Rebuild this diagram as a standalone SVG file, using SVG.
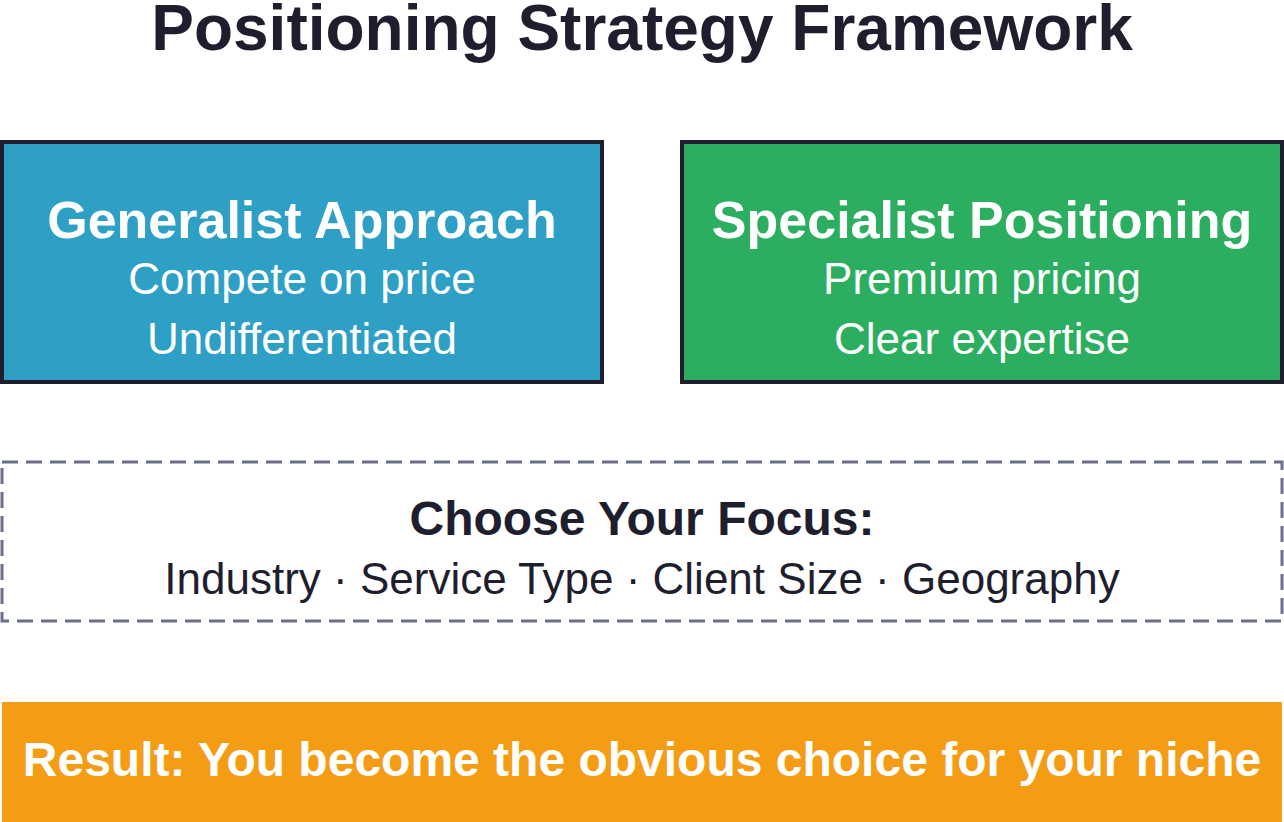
<svg xmlns="http://www.w3.org/2000/svg" width="1284" height="822" viewBox="0 0 1284 822">
<style>
.t{font-family:"Liberation Sans",Arial,sans-serif;text-anchor:middle}
.b{font-weight:bold}
.w{fill:#ffffff}
.d{fill:#1e1e2e}
.box{stroke:#1e1e2e;stroke-width:4}
</style>
<rect width="1284" height="822" fill="#ffffff"/>
<text class="t b d" x="642" y="50" font-size="64">Positioning Strategy Framework</text>
<g id="generalist">
<rect class="box" x="2" y="142" width="600" height="240" fill="#2e9fc5"/>
<text class="t b w" x="302" y="238" font-size="52">Generalist Approach</text>
<text class="t w" x="302" y="294" font-size="44">Compete on price</text>
<text class="t w" x="302" y="354" font-size="44">Undifferentiated</text>
</g>
<g id="specialist">
<rect class="box" x="682" y="142" width="600" height="240" fill="#2bae60"/>
<text class="t b w" x="982" y="238" font-size="52">Specialist Positioning</text>
<text class="t w" x="982" y="294" font-size="44">Premium pricing</text>
<text class="t w" x="982" y="354" font-size="44">Clear expertise</text>
</g>
<g id="focus">
<rect x="2" y="462" width="1280" height="159" fill="#ffffff" stroke="#6b6f8a" stroke-width="3" stroke-dasharray="16 8"/>
<text class="t b d" x="642" y="535" font-size="48">Choose Your Focus:</text>
<text class="t d" x="642" y="594" font-size="44">Industry · Service Type · Client Size · Geography</text>
</g>
<g id="result">
<rect x="2" y="702" width="1280" height="120" fill="#f49c14"/>
<text class="t b w" x="642" y="776" font-size="48">Result: You become the obvious choice for your niche</text>
</g>
<g id="connectors"></g>
</svg>
